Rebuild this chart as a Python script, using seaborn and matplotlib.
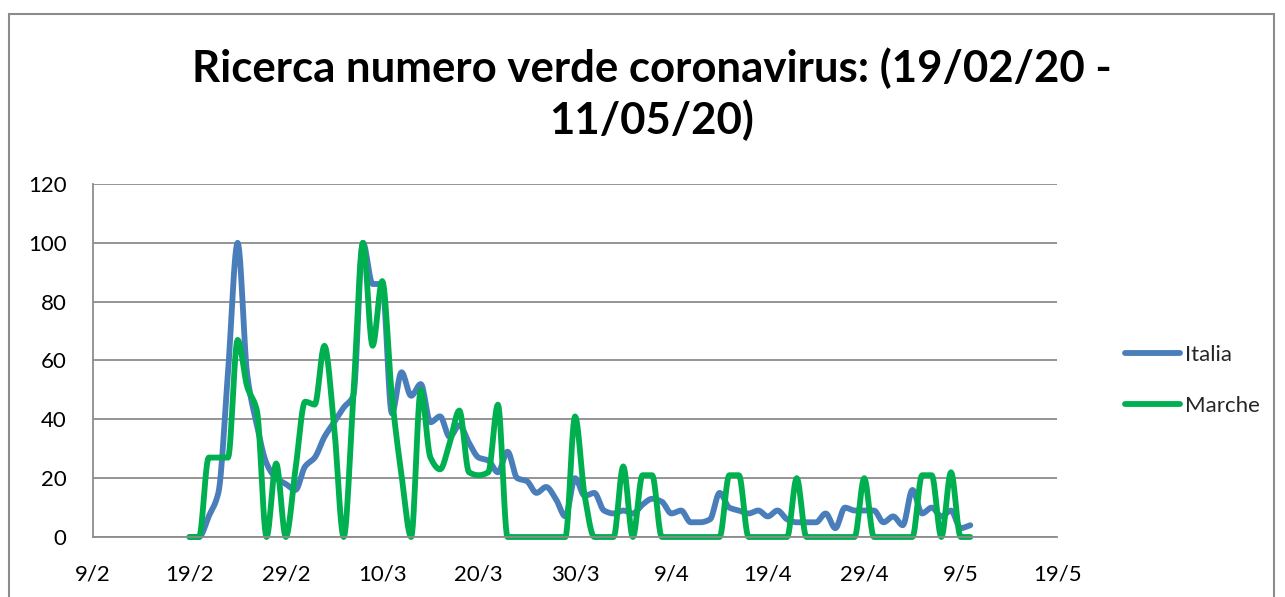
import numpy as np
import pandas as pd
import matplotlib
matplotlib.use("Agg")
import matplotlib.pyplot as plt
import matplotlib.patches as mpatches
import seaborn as sns

# daily values, 19/02/20 -> 10/05/20
start_date = "2020-02-19"
italia = [0, 0, 7, 15, 56, 100, 55, 38, 25, 20,
          18, 16, 24, 27, 34, 39, 44, 48, 100, 86,
          86, 42, 56, 48, 52, 39, 41, 34, 38, 32,
          27, 26, 22, 29, 20, 19, 15, 17, 13, 7,
          20, 14, 15, 9, 8, 9, 8, 11, 13, 12,
          8, 9, 5, 5, 6, 15, 10, 9, 8, 9,
          7, 9, 6, 5, 5, 5, 8, 3, 10, 9,
          9, 9, 5, 7, 4, 16, 8, 10, 7, 9,
          3, 4]
marche = [0, 0, 27, 27, 27, 67, 51, 43, 0, 25,
          0, 23, 46, 45, 65, 38, 0, 48, 100, 65,
          87, 48, 21, 0, 50, 27, 23, 32, 43, 22,
          21, 22, 45, 0, 0, 0, 0, 0, 0, 0,
          41, 14, 0, 0, 0, 24, 0, 21, 21, 0,
          0, 0, 0, 0, 0, 0, 21, 21, 0, 0,
          0, 0, 0, 20, 0, 0, 0, 0, 0, 0,
          20, 0, 0, 0, 0, 0, 21, 21, 0, 22,
          0, 0]
series_names = ["Italia", "Marche"]
series_colors = ["#4A7EBB", "#00B050"]
tick_dates = pd.date_range("2020-02-09", "2020-05-19", freq="10D")
tick_labels = [f"{d.day}/{d.month}" for d in tick_dates]
title = "Ricerca numero verde coronavirus: (19/02/20 -\n11/05/20)"


def smooth_line(values, steps=12):
    """Monotone cubic curve through the daily points (like Excel's smoothed line)."""
    y = np.asarray(values, dtype=float)
    d = np.diff(y)
    m = np.zeros_like(y)
    m[0], m[-1] = d[0], d[-1]
    for k in range(1, len(y) - 1):
        if d[k - 1] * d[k] > 0:
            m[k] = 2 * d[k - 1] * d[k] / (d[k - 1] + d[k])
    t = np.linspace(0, 1, steps, endpoint=False)
    h00 = 2 * t**3 - 3 * t**2 + 1
    h10 = t**3 - 2 * t**2 + t
    h01 = -2 * t**3 + 3 * t**2
    h11 = t**3 - t**2
    xs, ys = [], []
    for k in range(len(y) - 1):
        xs.append(k + t)
        ys.append(h00 * y[k] + h10 * m[k] + h01 * y[k + 1] + h11 * m[k + 1])
    xs.append([len(y) - 1])
    ys.append([y[-1]])
    return np.concatenate(xs), np.concatenate(ys)


sns.set_style("white")
plt.rcParams["font.family"] = ["Lato", "DejaVu Sans"]

fig = plt.figure(figsize=(12.85, 5.97), dpi=100, facecolor="white")
ax = fig.add_axes([0.0724, 0.1005, 0.7502, 0.5913])

frames = []
for name, vals in zip(series_names, [italia, marche]):
    xs, ys = smooth_line(vals)
    frames.append(pd.DataFrame({
        "date": pd.Timestamp(start_date) + pd.to_timedelta(xs, unit="D"),
        "value": ys,
        "serie": name,
    }))
df = pd.concat(frames, ignore_index=True)

sns.lineplot(data=df, x="date", y="value", hue="serie", hue_order=series_names,
             palette=series_colors, linewidth=4.2, estimator=None, sort=False,
             ax=ax, clip_on=False)
for line in ax.get_lines():
    line.set_solid_capstyle("round")
    line.set_solid_joinstyle("round")

ax.set_xlim(tick_dates[0], tick_dates[-1])
ax.set_ylim(0, 120)
ax.set_xticks(tick_dates)
ax.set_xticklabels(tick_labels)
ax.set_yticks(range(0, 121, 20))
ax.set_xlabel("")
ax.set_ylabel("")
ax.grid(axis="y", color="#8C8C8C", linewidth=1.3)
ax.grid(axis="x", visible=False)
for side in ["top", "right"]:
    ax.spines[side].set_visible(False)
for side in ["left", "bottom"]:
    ax.spines[side].set_color("#8C8C8C")
    ax.spines[side].set_linewidth(1.3)
ax.tick_params(axis="both", which="major", labelsize=16, colors="#8C8C8C",
               labelcolor="black", length=6, width=1.3, direction="out")
ax.tick_params(axis="y", pad=13)
ax.tick_params(axis="x", pad=14)
ax.set_axisbelow(True)

leg = ax.legend(loc="center left", bbox_to_anchor=(1.07, 0.444), frameon=False,
                fontsize=16, handlelength=2.5, handletextpad=0.2, labelspacing=1.38,
                borderpad=0, borderaxespad=0)
for h in leg.get_lines():
    h.set_linewidth(4.2)

fig.text(0.507, 0.842, title, ha="center", va="center", fontsize=31.5,
         fontweight="bold", linespacing=1.32, color="black")

# chart border like the spreadsheet frame
fig.patches.append(mpatches.Rectangle((0.007, -0.05), 0.9844, 1.0265, fill=False,
                                      edgecolor="#8C8C8C", linewidth=1.5,
                                      transform=fig.transFigure, figure=fig))

fig.savefig("out.png", dpi=100, facecolor="white")
